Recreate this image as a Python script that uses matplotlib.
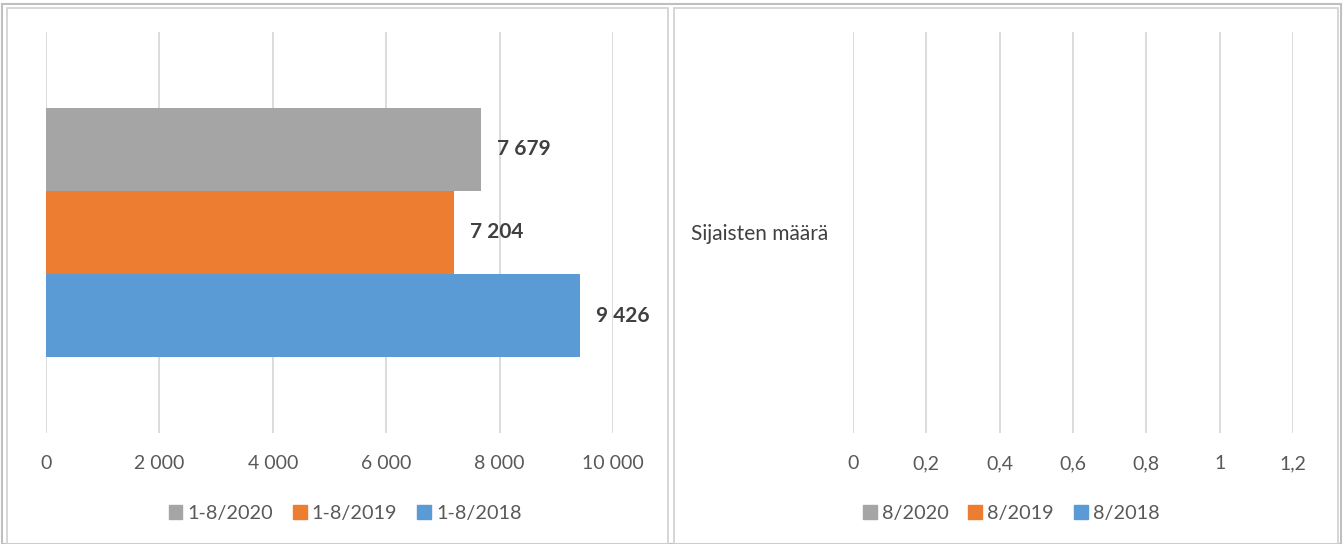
import matplotlib.pyplot as plt
from matplotlib.patches import Rectangle, Patch
from matplotlib.ticker import FuncFormatter

plt.rcParams['font.family'] = ['Lato', 'DejaVu Sans']

# data
left_series = ['1-8/2020', '1-8/2019', '1-8/2018']
left_values = [7679, 7204, 9426]
right_series = ['8/2020', '8/2019', '8/2018']
right_category = 'Sijaisten määrä'
left_xticks = [0, 2000, 4000, 6000, 8000, 10000]
right_xticks = [0, 0.2, 0.4, 0.6, 0.8, 1.0, 1.2]
colors = ['#a5a5a5', '#ed7d31', '#5b9bd5']

W, H = 1344, 544
fig = plt.figure(figsize=(W / 100, H / 100), dpi=100)

def px(x0, y0, x1, y1):
    return [x0 / W, 1 - y1 / H, (x1 - x0) / W, (y1 - y0) / H]

# frames
border = '#d0d0d0'
fig.patches.append(Rectangle((2 / W, 0), 1339 / W, (H - 4) / H, transform=fig.transFigure,
                             fill=False, ec='#bfbfbf', lw=1.5))
fig.patches.append(Rectangle((7 / W, 0), 661 / W, (H - 8) / H, transform=fig.transFigure,
                             fill=False, ec=border, lw=1.2))
fig.patches.append(Rectangle((674 / W, 0), 664 / W, (H - 8) / H, transform=fig.transFigure,
                             fill=False, ec=border, lw=1.2))

tick_color = '#595959'
grid_color = '#d9d9d9'
fs = 14

def style(ax):
    for s in ax.spines.values():
        s.set_visible(False)
    ax.grid(axis='x', color=grid_color, lw=1.3)
    ax.set_axisbelow(True)
    ax.tick_params(axis='x', length=0, pad=16, labelsize=fs, labelcolor=tick_color)
    ax.tick_params(axis='y', length=0)
    ax.set_ylim(-0.5, 0.5)

# left chart
ax1 = fig.add_axes(px(46, 32, 613, 433))
h = 0.207
for i, (name, v) in enumerate(zip(left_series, left_values)):
    y = h - i * h
    ax1.barh(y, v, height=h, color=colors[i], label=name)
    ax1.text(v + 280, y, f'{v:,}'.replace(',', ' '), va='center', ha='left',
             fontsize=15, fontweight='bold', color='#404040')
ax1.set_xlim(0, 10000)
ax1.set_xticks(left_xticks)
ax1.xaxis.set_major_formatter(FuncFormatter(lambda x, p: f'{int(x):,}'.replace(',', ' ')))
ax1.set_yticks([])
style(ax1)

# right chart (no values)
ax2 = fig.add_axes(px(853, 32, 1293, 433))
ax2.set_xlim(0, 1.2)
ax2.set_xticks(right_xticks)
ax2.xaxis.set_major_formatter(FuncFormatter(lambda x, p: f'{x:g}'.replace('.', ',')))
ax2.set_yticks([0])
ax2.set_yticklabels([right_category], fontsize=15, color='#404040')
ax2.tick_params(axis='y', pad=18)
style(ax2)

def legend(labels, cx):
    handles = [Patch(color=c) for c in colors]
    fig.legend(handles, labels, loc='center', bbox_to_anchor=(cx / W, 1 - 513 / H),
               ncol=3, frameon=False, fontsize=14.3, handlelength=0.7, handleheight=0.7,
               handletextpad=0.25, columnspacing=1.0, labelcolor=tick_color)

legend(left_series, 345)
legend(right_series, 1011)

fig.savefig('out.png', dpi=100)
